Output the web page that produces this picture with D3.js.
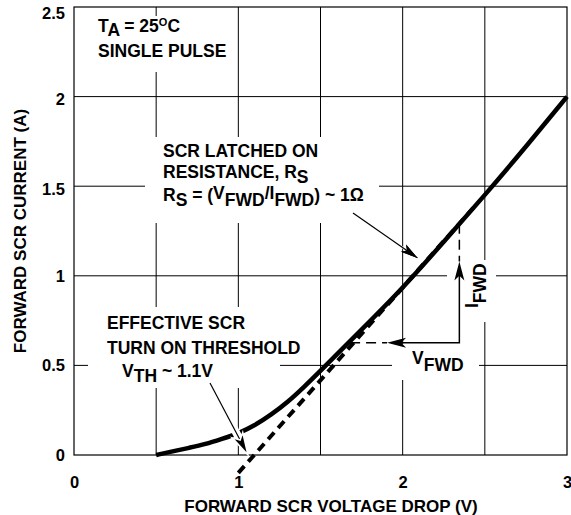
<!DOCTYPE html>
<html>
<head>
<meta charset="utf-8">
<script src="https://cdn.jsdelivr.net/npm/d3@7"></script>
<style>
  body { margin: 0; background: #fff; }
  text { font-family: 'Liberation Sans', Arial, sans-serif; font-weight: bold; fill: #000; }
</style>
</head>
<body>
<div class="chart"></div>
<script>
// forward SCR voltage (V) vs current (A), single pulse
const voltage = [0.5, 0.6, 0.7, 0.8, 0.9, 1.0, 1.1, 1.2, 1.3, 1.4, 1.5, 1.75, 2.0, 2.25, 2.5, 2.75, 3.0];
const current = [0, 0.02, 0.04, 0.06, 0.09, 0.12, 0.165, 0.225, 0.295, 0.38, 0.47, 0.70, 0.93, 1.19, 1.45, 1.72, 2.0];

// dashed asymptote (latched on resistance)
const asymV = [1.0, 2.45];
const asymI = [-0.1, 1.4];

const xTicks = [0, 1, 2, 3];
const yTicks = [0, 0.5, 1, 1.5, 2, 2.5];
const xGrid = [0.5, 1, 1.5, 2, 2.5];
const yGrid = [0.5, 1, 1.5, 2];

const width = 571, height = 515;
const m = {left: 74, top: 7, right: 4, bottom: 60};

const svg = d3.select('.chart').append('svg')
  .attr('width', width)
  .attr('height', height);

const x = d3.scaleLinear().domain([0, 3]).range([m.left, width - m.right]);
const y = d3.scaleLinear().domain([0, 2.5]).range([height - m.bottom, m.top]);

// grid
svg.selectAll('line.vg').data(xGrid).enter().append('line')
  .attr('x1', d => x(d)).attr('x2', d => x(d))
  .attr('y1', y(0)).attr('y2', y(2.5))
  .attr('stroke', '#000').attr('stroke-width', 1);
svg.selectAll('line.hg').data(yGrid).enter().append('line')
  .attr('x1', x(0)).attr('x2', x(3))
  .attr('y1', d => y(d)).attr('y2', d => y(d))
  .attr('stroke', '#000').attr('stroke-width', 1);

// white boxes behind the notes (break the grid like the original)
const boxes = [
  [90, 16, 146, 56],
  [145, 137, 234, 86],
  [88, 307, 192, 81],
  [392, 344, 87, 36],
  [447, 260, 49, 62]
];
svg.selectAll('rect.bg').data(boxes).enter().append('rect')
  .attr('x', d => d[0]).attr('y', d => d[1])
  .attr('width', d => d[2]).attr('height', d => d[3])
  .attr('fill', '#fff');

// frame
svg.append('rect')
  .attr('x', x(0)).attr('y', y(2.5))
  .attr('width', x(3) - x(0)).attr('height', y(0) - y(2.5))
  .attr('fill', 'none').attr('stroke', '#000').attr('stroke-width', 1.2);

// axes labels
const xAxis = svg.append('g')
  .attr('transform', `translate(0,${y(0)})`)
  .call(d3.axisBottom(x).tickValues(xTicks).tickSize(0).tickPadding(21).tickFormat(d3.format('d')));
xAxis.select('.domain').remove();
xAxis.selectAll('text').attr('font-size', 16.5).attr('font-family', null);

const yAxis = svg.append('g')
  .attr('transform', `translate(${x(0)},0)`)
  .call(d3.axisLeft(y).tickValues(yTicks).tickSize(0).tickPadding(9).tickFormat(d => d));
yAxis.select('.domain').remove();
yAxis.selectAll('text').attr('font-size', 16.5).attr('font-family', null)
  .attr('y', d => d === 2.5 ? 6 : (d >= 1.5 ? 3 : 0));

svg.append('text')
  .attr('x', 331).attr('y', 512)
  .attr('text-anchor', 'middle').attr('font-size', 17)
  .text('FORWARD SCR VOLTAGE DROP (V)');

svg.append('text')
  .attr('transform', `translate(26,${(y(0) + y(2.5)) / 2}) rotate(-90)`)
  .attr('text-anchor', 'middle').attr('font-size', 17)
  .text('FORWARD SCR CURRENT (A)');

// dashed asymptote
const asym = asymV.map((v, i) => [v, asymI[i]]);
svg.append('path')
  .datum(asym)
  .attr('d', d3.line().x(d => x(d[0])).y(d => y(d[1])))
  .attr('fill', 'none').attr('stroke', '#000')
  .attr('stroke-width', 4).attr('stroke-dasharray', '9,6');

// measured curve
const pts = voltage.map((v, i) => [v, current[i]]);
svg.append('path')
  .datum(pts)
  .attr('d', d3.line().x(d => x(d[0])).y(d => y(d[1])).curve(d3.curveBasis))
  .attr('fill', 'none').attr('stroke', '#000')
  .attr('stroke-width', 4.5).attr('stroke-linecap', 'butt');

// slope construction (V_FWD / I_FWD)
const cornerV = 2.345, cornerI = 0.626;
svg.append('line')
  .attr('x1', x(cornerV)).attr('x2', x(cornerV))
  .attr('y1', y(1.29)).attr('y2', y(1.08))
  .attr('stroke', '#000').attr('stroke-width', 1.5).attr('stroke-dasharray', '10,6');
svg.append('line')
  .attr('x1', x(1.68)).attr('x2', x(1.905))
  .attr('y1', y(cornerI)).attr('y2', y(cornerI))
  .attr('stroke', '#000').attr('stroke-width', 1.5).attr('stroke-dasharray', '10,6');
svg.append('path')
  .attr('d', `M${x(1.93)},${y(cornerI)} H${x(cornerV)} V${y(1.05)}`)
  .attr('fill', 'none').attr('stroke', '#000').attr('stroke-width', 1.5);

function head(tx, ty, fx, fy, len, w) {
  const a = Math.atan2(ty - fy, tx - fx);
  const bx = tx - len * Math.cos(a), by = ty - len * Math.sin(a);
  const px = -Math.sin(a) * w / 2, py = Math.cos(a) * w / 2;
  return `M${tx},${ty} L${bx + px},${by + py} L${bx + len * 0.25 * Math.cos(a)},${by + len * 0.25 * Math.sin(a)} L${bx - px},${by - py} Z`;
}
svg.append('path').attr('d', head(x(cornerV), y(1.08), x(cornerV), y(0.8), 19, 10));
svg.append('path').attr('d', head(x(1.905), y(cornerI), x(2.2), y(cornerI), 19, 10));

// annotation arrows with white halo
function arrow(x1, y1, x2, y2, halo) {
  svg.append('line')
    .attr('x1', x1).attr('y1', y1).attr('x2', x2).attr('y2', y2)
    .attr('stroke', '#fff').attr('stroke-width', halo);
  svg.append('line')
    .attr('x1', x1).attr('y1', y1).attr('x2', x2).attr('y2', y2)
    .attr('stroke', '#000').attr('stroke-width', 1.2);
  svg.append('path').attr('d', head(x2, y2, x1, y1, 17, 9))
    .attr('stroke', '#fff').attr('stroke-width', halo > 3 ? 3 : 0);
  svg.append('path').attr('d', head(x2, y2, x1, y1, 17, 9));
}
arrow(353, 213, x(2.09), y(1.1), 2);
arrow(210, 383, x(1.05), y(0.015), 8);

// notes
const fs = 17.5;
function sub(parts, x0, y0) {
  const el = svg.append('text').attr('x', x0).attr('y', y0).attr('font-size', fs);
  let shift = 0;
  parts.forEach(p => {
    const ts = el.append('tspan').text(p[0]);
    const want = p[1] || 0;
    if (want !== shift) { ts.attr('dy', want - shift); shift = want; }
    if (p[2]) ts.attr('font-size', p[2]);
  });
  return el;
}
sub([['T'], ['A', 4], [' = 25', 0], ['O', -6, 11], ['C', 0]], 98, 32);
sub([['SINGLE PULSE']], 98, 57);

sub([['SCR LATCHED ON']], 163, 157);
sub([['RESISTANCE, R'], ['S', 5]], 163, 178);
sub([['R'], ['S', 5], [' = (', 0], ['V', -2], ['FWD', 5], ['/I', -2], ['FWD', 5], [') ~ 1\u03A9', 0]], 163, 201);

sub([['EFFECTIVE SCR']], 107, 329);
sub([['TURN ON THRESHOLD']], 107, 354);
sub([['V'], ['TH', 5], [' ~ 1.1V', 0]], 122, 377);

sub([['V'], ['FWD', 7]], 412, 364);

const ifwd = svg.append('text')
  .attr('transform', `translate(478,308) rotate(-90)`)
  .attr('font-size', fs);
ifwd.append('tspan').text('I');
ifwd.append('tspan').attr('dy', 8).text('FWD');
</script>
</body>
</html>
